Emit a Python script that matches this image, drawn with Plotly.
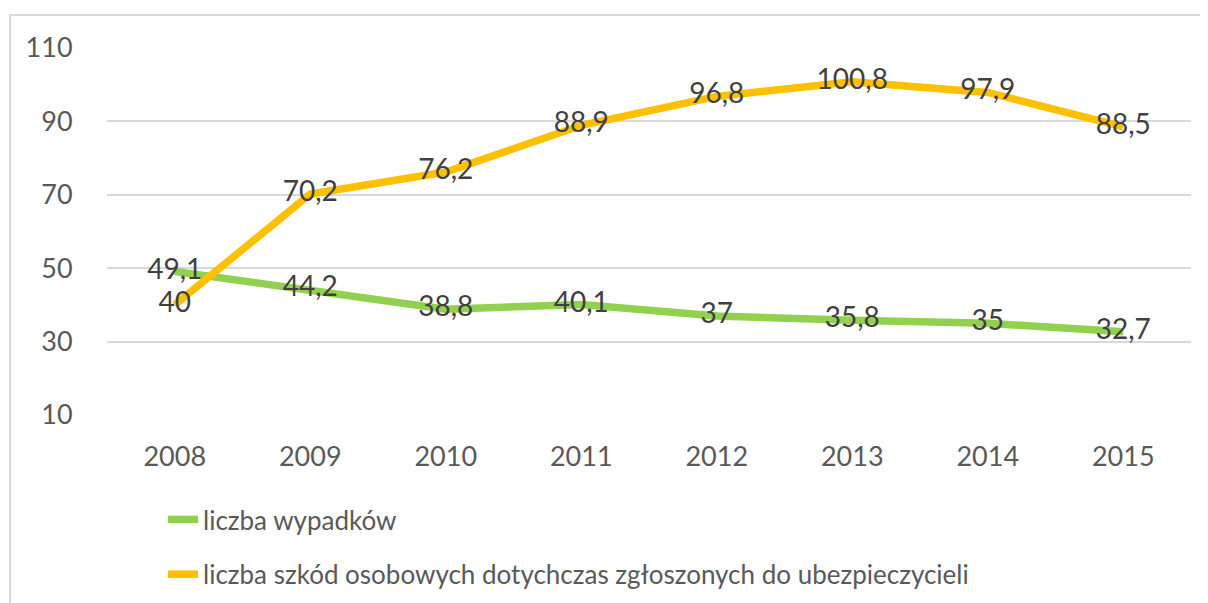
import plotly.graph_objects as go

years = ["2008", "2009", "2010", "2011", "2012", "2013", "2014", "2015"]
wypadki = [49.1, 44.2, 38.8, 40.1, 37, 35.8, 35, 32.7]
szkody = [40, 70.2, 76.2, 88.9, 96.8, 100.8, 97.9, 88.5]
name_wypadki = "liczba wypadków"
name_szkody = "liczba szkód osobowych dotychczas zgłoszonych do ubezpieczycieli"
y_ticks = [10, 30, 50, 70, 90, 110]

def fmt(v):
    s = ("%g" % v)
    return s.replace(".", ",")

FONT = "Lato"
TXT = "#595959"
LBL = "#404040"
GREEN = "#92D050"
ORANGE = "#FFC000"

fig = go.Figure()
fig.add_trace(go.Scatter(x=years, y=wypadki, mode="lines", name=name_wypadki,
                         line=dict(color=GREEN, width=7.5), legendgroup="a"))
fig.add_trace(go.Scatter(x=years, y=szkody, mode="lines", name=name_szkody,
                         line=dict(color=ORANGE, width=7.5), legendgroup="b"))
fig.add_trace(go.Scatter(x=years, y=wypadki, mode="text", text=[fmt(v) for v in wypadki],
                         textposition="middle center", showlegend=False,
                         textfont=dict(family=FONT, size=28, color=LBL), cliponaxis=False))
fig.add_trace(go.Scatter(x=years, y=szkody, mode="text", text=[fmt(v) for v in szkody],
                         textposition="middle center", showlegend=False,
                         textfont=dict(family=FONT, size=28, color=LBL), cliponaxis=False))

# page has an 8px body margin; figure drawn at (8, 8)
W, H = 1200, 595
L, R, T, B = 99, 17, 40, 188
pw = W - L - R
ph = H - T - B

fig.update_layout(
    width=W, height=H,
    margin=dict(l=L, r=R, t=T, b=B, autoexpand=False),
    paper_bgcolor="white", plot_bgcolor="white",
    font=dict(family=FONT, size=27, color=TXT),
    xaxis=dict(type="category", range=[-0.5, 7.5], showgrid=False, zeroline=False,
               showline=False, ticks="outside", ticklen=18, tickcolor="rgba(0,0,0,0)",
               tickfont=dict(family=FONT, size=27, color=TXT)),
    yaxis=dict(range=[10, 110], tickvals=y_ticks, ticktext=[str(v) for v in y_ticks],
               showgrid=True, gridcolor="#D9D9D9", gridwidth=2, zeroline=False,
               showline=False, ticks="outside", ticklen=28, tickcolor="rgba(0,0,0,0)",
               tickfont=dict(family=FONT, size=27, color=TXT)),
    legend=dict(orientation="v", x=(155 - L) / pw, xanchor="left",
                y=-81 / ph, yanchor="top",
                yref="paper", tracegroupgap=18,
                font=dict(family=FONT, size=26, color=TXT),
                bgcolor="rgba(0,0,0,0)"),
    showlegend=True,
    shapes=[dict(type="rect", xref="paper", yref="paper",
                 x0=(2 - L) / pw, x1=(W + 20 - L) / pw,
                 y0=-(B + 30) / ph, y1=1 + 33 / ph,
                 line=dict(color="#D9D9D9", width=2), fillcolor="rgba(0,0,0,0)", layer="below")],
)

fig.write_html("out.html")
